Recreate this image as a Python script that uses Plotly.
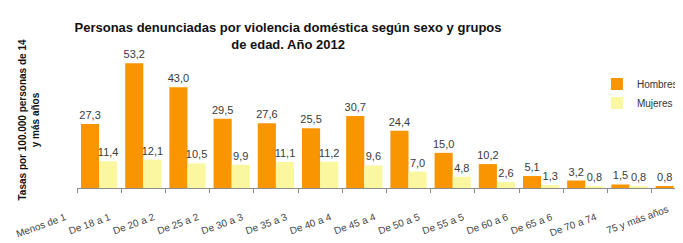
import plotly.graph_objects as go

categories = ["Menos de 1", "De 18 a 1", "De 20 a 2", "De 25 a 2", "De 30 a 3", "De 35 a 3",
              "De 40 a 4", "De 45 a 4", "De 50 a 5", "De 55 a 5", "De 60 a 6", "De 65 a 6",
              "De 70 a 74", "75 y más años"]
hombres = [27.3, 53.2, 43.0, 29.5, 27.6, 25.5, 30.7, 24.4, 15.0, 10.2, 5.1, 3.2, 1.5, 0.8]
mujeres = [11.4, 12.1, 10.5, 9.9, 11.1, 11.2, 9.6, 7.0, 4.8, 2.6, 1.3, 0.8, 0.8, 0.3]

FONT = "Liberation Sans, Arial, sans-serif"
fig = go.Figure()
fig.add_trace(go.Bar(x=categories, y=hombres, name="Hombres", marker_color="#F99500",
                     marker_line_width=0, texttemplate="%{y:.1f}", textposition="outside",
                     constraintext="none",
                     textfont=dict(size=11, color="#3a3a3a"), cliponaxis=False))
fig.add_trace(go.Bar(x=categories, y=mujeres, name="Mujeres", marker_color="#FBF6A0",
                     marker_line_width=0, texttemplate="%{y:.1f}", textposition="outside",
                     constraintext="none",
                     textfont=dict(size=11, color="#3a3a3a"), cliponaxis=False))

fig.update_layout(
    width=683, height=243,
    margin=dict(l=69, r=8, t=44, b=63, autoexpand=False),
    paper_bgcolor="white", plot_bgcolor="white",
    separators=",.",
    barmode="group", bargap=0.18, bargroupgap=0,
    font=dict(family=FONT, color="#333333"),
    title=dict(text="<b>Personas denunciadas por violencia doméstica según sexo y grupos<br>de edad. Año 2012</b>",
               x=0.41, xanchor="center", y=1 - 24 / 243, yanchor="middle",
               font=dict(family=FONT, size=13, color="#111111")),
    legend=dict(x=0.858, y=0.871, xanchor="left", yanchor="top", bgcolor="rgba(0,0,0,0)",
                font=dict(size=10, color="#333333"), itemwidth=30, tracegroupgap=2),
    showlegend=True,
)
ticktext = categories[:-1] + [""]
fig.update_xaxes(range=[-0.5, 13.21], showline=True, linecolor="#8c8c8c", linewidth=1,
                 ticks="outside", tickson="boundaries", ticklen=4, tickcolor="#8c8c8c",
                 tickmode="array", tickvals=categories, ticktext=ticktext,
                 tickangle=-20, tickfont=dict(size=10, color="#444444"),
                 ticklabelshift=-34, ticklabelstandoff=19, showgrid=False, automargin=False)
fig.add_annotation(x=categories[-1], xref="x", y=0, yref="paper", text=categories[-1],
                   showarrow=False, textangle=-20, xanchor="right", yanchor="top",
                   xshift=-1, yshift=-13, font=dict(size=10, color="#444444"))
fig.update_yaxes(range=[0, 58], showticklabels=False, showgrid=False, zeroline=False,
                 showline=False, ticks="", automargin=False,
                 title=dict(text="<b>Tasas por 100.000 personas de 14<br>y más años</b>",
                            font=dict(size=10, color="#111111"), standoff=34))
fig.write_html("out.html")
